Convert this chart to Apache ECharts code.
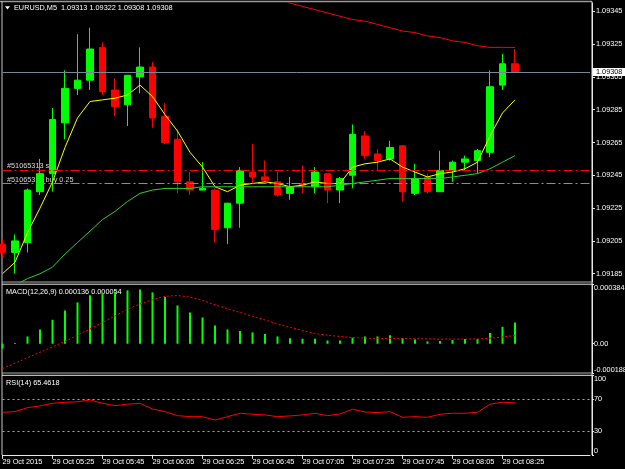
<!DOCTYPE html>
<html>
<head>
<meta charset="utf-8">
<script src="https://cdn.jsdelivr.net/npm/echarts@6/dist/echarts.min.js"></script>
<style>html,body{margin:0;padding:0;background:#000;}#c{width:625px;height:469px;}</style>
</head>
<body>
<div id="c"></div>
<script>
const categories = ['05:05','05:10','05:15','05:20','05:25','05:30','05:35','05:40','05:45','05:50','05:55','06:00',
  '06:05','06:10','06:15','06:20','06:25','06:30','06:35','06:40','06:45','06:50','06:55','07:00',
  '07:05','07:10','07:15','07:20','07:25','07:30','07:35','07:40','07:45','07:50','07:55','08:00',
  '08:05','08:10','08:15','08:20','08:25','08:30','08:35','08:40','08:45','08:50','08:55','09:00'];

const opens  = [1.09203,1.09198,1.09204,1.09235,1.09246,1.09277,1.09298,1.09303,1.09323,1.09297,1.09288,1.09305,1.09311,1.09281,1.09267,1.09241,1.09236,1.09236,1.09213,1.09228,1.09247,1.09244,1.09241,1.09234,1.09240,1.09238,1.09246,1.09236,1.09245,1.09269,1.09258,1.09255,1.09263,1.09234,1.09244,1.09235,1.09248,1.09253,1.09254,1.09259,1.09300,1.09313];
const highs  = [1.09206,1.09209,1.09237,1.09255,1.09286,1.09309,1.09331,1.09335,1.09326,1.09304,1.09306,1.09323,1.09314,1.09289,1.09273,1.09247,1.09253,1.09237,1.09228,1.09250,1.09264,1.09254,1.09247,1.09244,1.09251,1.09250,1.09246,1.09244,1.09276,1.09272,1.09261,1.09266,1.09263,1.09252,1.09246,1.09260,1.09254,1.09257,1.09261,1.09309,1.09319,1.09322];
const lows   = [1.09195,1.09185,1.09198,1.09233,1.09235,1.09267,1.09294,1.09297,1.09294,1.09281,1.09275,1.09295,1.09274,1.09264,1.09234,1.09233,1.09236,1.09204,1.09203,1.09213,1.09240,1.09241,1.09232,1.09230,1.09234,1.09234,1.09228,1.09228,1.09237,1.09255,1.09248,1.09254,1.09229,1.09233,1.09234,1.09235,1.09241,1.09248,1.09246,1.09256,1.09297,1.09308];
const closes = [1.09198,1.09205,1.09236,1.09246,1.09279,1.09298,1.09303,1.09322,1.09296,1.09287,1.09306,1.09311,1.09280,1.09265,1.09241,1.09236,1.09237,1.09212,1.09228,1.09248,1.09244,1.09242,1.09233,1.09238,1.09239,1.09247,1.09236,1.09243,1.09270,1.09257,1.09254,1.09262,1.09235,1.09243,1.09235,1.09248,1.09253,1.09255,1.09260,1.09299,1.09313,1.09308];

const maFast = [1.09185,1.09192,1.09210,1.09225,1.09241,1.09262,1.09280,1.09290,1.09291,1.09292,1.09294,1.09300,1.09293,1.09282,1.09272,1.09259,1.09250,1.09238,1.09235,1.09239,1.09240,1.09241,1.09240,1.09238,1.09239,1.09241,1.09240,1.09240,1.09250,1.09252,1.09253,1.09255,1.09250,1.09247,1.09244,1.09246,1.09247,1.09249,1.09253,1.09269,1.09283,1.09291];
const maMid  = [1.09175,1.09178,1.09182,1.09185,1.09189,1.09197,1.09204,1.09211,1.09218,1.09223,1.09229,1.09234,1.09236,1.09237,1.09237,1.09237,1.09238,1.09238,1.09238,1.09238,1.09238,1.09238,1.09238,1.09238,1.09238,1.09238,1.09238,1.09239,1.09240,1.09241,1.09242,1.09243,1.09243,1.09243,1.09243,1.09243,1.09244,1.09245,1.09246,1.09249,1.09253,1.09257];
const maSlow = [null,null,null,null,null,null,null,null,null,null,null,null,null,null,null,null,null,null,null,null,null,null,1.09353,1.09350,1.09348,1.09346,1.09344,1.09342,1.09340,1.09339,1.09337,1.09335,1.09333,1.09332,1.09330,1.09329,1.09327,1.09326,1.09324,1.09323,1.09323,1.09323];

const macdHist = [-0.00003,0.000005,0.000047,0.000092,0.000154,0.000214,0.000266,0.000311,0.000326,0.000332,0.000343,0.000349,0.00033,0.0003,0.000246,0.000201,0.000169,0.000118,0.000092,0.000082,0.000073,0.000062,0.000047,0.000036,0.000032,0.000032,0.000021,0.000021,0.000039,0.000047,0.000047,0.000054,0.000036,0.000028,0.000015,0.000017,0.000024,0.00003,0.00003,0.000069,0.000109,0.000136];
const macdSignal = [-0.00016,-0.000125,-0.00009,-0.000055,-0.00002,0.000015,0.000055,0.000096,0.000137,0.000179,0.000222,0.000256,0.000283,0.000305,0.00031,0.0003,0.000279,0.00025,0.000226,0.000201,0.000177,0.000153,0.000127,0.000106,0.000085,0.000066,0.000055,0.000047,0.00004,0.000037,0.000034,0.000034,0.000033,0.000032,0.000031,0.00003,0.00003,0.00003,0.000031,0.000035,0.000043,0.000054];

const rsi = [53.6,54.4,59.5,61.6,65,66.3,66.8,69.2,65,62,63.8,65,57.8,54.4,49.4,48.1,48.1,43.9,48.1,52.4,51.1,50.3,48.1,49,50.3,52.4,49.4,51.5,57.4,54,53.2,54.4,47.3,48.1,47.3,51.1,52.4,52.4,53.6,63.8,66.3,65.46];

const priceTicks = [1.09185,1.09205,1.09225,1.09245,1.09265,1.09285,1.09305,1.09325,1.09345];
const macdTicks = [-0.000188, 0, 0.000384];
const rsiTicks = [0, 30, 70, 100];
const rsiLevels = [70, 30];
const bidPrice = 1.09308;
const slPrice = 1.09248;
const openPrice = 1.0924;
const titleText = 'EURUSD,M5  1.09313 1.09322 1.09308 1.09308';
const macdTitle = 'MACD(12,26,9) 0.000136 0.000054';
const rsiTitle = 'RSI(14) 65.4618';
const slText = '#51065313 sl';
const buyText = '#51065313 buy 0.25';

const FF = '"Liberation Sans", Arial, sans-serif';
const FS = 7.3;
const candleData = opens.map((o, i) => [o, closes[i], lows[i], highs[i]]);
const labelShown = (i) => i % 4 === 0 && i <= 40;

const chart = echarts.init(document.getElementById('c'), null, {renderer: 'canvas'});
const gridCommon = {left: 2.5, right: 35, outerBoundsMode: 'none', containLabel: false};
const hiddenX = (g) => ({type: 'category', gridIndex: g, data: categories, boundaryGap: false, show: false});

chart.setOption({
  backgroundColor: '#000000',
  animation: false,
  grid: [
    Object.assign({top: 3.1, height: 278.8}, gridCommon),
    Object.assign({top: 284, height: 89}, gridCommon),
    Object.assign({top: 375.5, height: 79.3}, gridCommon)
  ],
  xAxis: [
    hiddenX(0), hiddenX(1),
    {type: 'category', gridIndex: 2, data: categories, boundaryGap: false,
     axisLine: {show: true, onZero: false, lineStyle: {color: '#e8e8e8', width: 1}},
     axisTick: {show: true, length: 4, interval: (i) => labelShown(i), lineStyle: {color: '#e8e8e8'}},
     axisLabel: {interval: (i) => labelShown(i), align: 'left', margin: 3.5, color: '#ffffff', fontSize: FS, fontFamily: FF,
       formatter: (v, i) => i === 0 ? '29 Oct 2015' : '29 Oct ' + v},
     splitLine: {show: false}}
  ],
  yAxis: [
    {type: 'value', gridIndex: 0, position: 'right', offset: 2, min: 1.0918, max: 1.0935,
     splitLine: {show: false},
     axisLine: {show: true, onZero: false, lineStyle: {color: '#e8e8e8'}},
     axisTick: {show: true, length: 3, customValues: priceTicks, lineStyle: {color: '#e8e8e8'}},
     axisLabel: {customValues: priceTicks, formatter: (v) => v.toFixed(5), color: '#ffffff', fontSize: FS, fontFamily: FF, margin: 4}},
    {type: 'value', gridIndex: 1, position: 'right', offset: 2, min: -0.000188, max: 0.000384,
     splitLine: {show: false},
     axisLine: {show: true, onZero: false, lineStyle: {color: '#e8e8e8'}},
     axisTick: {show: true, length: 2, customValues: macdTicks, lineStyle: {color: '#e8e8e8'}},
     axisLabel: {customValues: macdTicks, formatter: (v) => v === 0 ? '0.00' : v.toFixed(6), color: '#ffffff', fontSize: FS, fontFamily: FF, margin: 2,
       verticalAlignMaxLabel: 'top', verticalAlignMinLabel: 'bottom'}},
    {type: 'value', gridIndex: 2, position: 'right', offset: 2, min: 0, max: 100,
     splitLine: {show: false},
     axisLine: {show: true, onZero: false, lineStyle: {color: '#e8e8e8'}},
     axisTick: {show: true, length: 2, customValues: rsiTicks, lineStyle: {color: '#e8e8e8'}},
     axisLabel: {customValues: rsiTicks, color: '#ffffff', fontSize: FS, fontFamily: FF, margin: 2,
       verticalAlignMaxLabel: 'top', verticalAlignMinLabel: 'bottom'}}
  ],
  graphic: [
    {type: 'line', shape: {x1: 0, y1: 1.5, x2: 592, y2: 1.5}, style: {stroke: '#9a9a9a', lineWidth: 1.5}},
    {type: 'line', shape: {x1: 2, y1: 1.5, x2: 2, y2: 455}, style: {stroke: '#c8c8c8', lineWidth: 1}},
    {type: 'line', shape: {x1: 592, y1: 1.5, x2: 592, y2: 455}, style: {stroke: '#e8e8e8', lineWidth: 1}},
    {type: 'line', shape: {x1: 2, y1: 282, x2: 592, y2: 282}, style: {stroke: '#b0b0b0', lineWidth: 1}},
    {type: 'line', shape: {x1: 2, y1: 284.2, x2: 592, y2: 284.2}, style: {stroke: '#e8e8e8', lineWidth: 1}},
    {type: 'line', shape: {x1: 2, y1: 373, x2: 592, y2: 373}, style: {stroke: '#b0b0b0', lineWidth: 1}},
    {type: 'line', shape: {x1: 2, y1: 375.3, x2: 592, y2: 375.3}, style: {stroke: '#e8e8e8', lineWidth: 1}},
    {type: 'polygon', shape: {points: [[5, 6.3], [10, 6.3], [7.5, 9.5]]}, style: {fill: '#ffffff'}},
    {type: 'text', x: 14, y: 7.5, style: {text: titleText, fill: '#ffffff', font: FS + 'px ' + FF, verticalAlign: 'middle', textVerticalAlign: 'middle'}},
    {type: 'text', x: 6, y: 291.5, style: {text: macdTitle, fill: '#ffffff', font: FS + 'px ' + FF, verticalAlign: 'middle', textVerticalAlign: 'middle'}},
    {type: 'text', x: 6, y: 382.7, style: {text: rsiTitle, fill: '#ffffff', font: FS + 'px ' + FF, verticalAlign: 'middle', textVerticalAlign: 'middle'}},
    {type: 'text', x: 7, y: 166, style: {text: slText, fill: '#d8d8d8', font: FS + 'px ' + FF, verticalAlign: 'middle', textVerticalAlign: 'middle'}},
    {type: 'text', x: 7, y: 179.5, style: {text: buyText, fill: '#d8d8d8', font: FS + 'px ' + FF, verticalAlign: 'middle', textVerticalAlign: 'middle'}}
  ],
  series: [
    {type: 'line', name: 'levels', xAxisIndex: 0, yAxisIndex: 0, data: [], z: 1, silent: true,
     markLine: {symbol: ['none', 'none'], precision: 5, silent: true, animation: false,
       data: [
         {yAxis: bidPrice, lineStyle: {color: '#778899', type: 'solid', width: 1},
          label: {show: true, position: 'end', distance: 3, formatter: (p) => Number(p.value).toFixed(5),
                  backgroundColor: '#ffffff', color: '#000000', padding: [1, 4, 0, 3], fontSize: FS, fontFamily: FF}},
         {yAxis: slPrice, lineStyle: {color: '#ff0000', type: [9, 3, 2, 3], width: 1}, label: {show: false}},
         {yAxis: openPrice, lineStyle: {color: '#32cd32', type: [9, 3, 2, 3], width: 1}, label: {show: false}}
       ]}},
    {type: 'candlestick', name: 'EURUSD', xAxisIndex: 0, yAxisIndex: 0, data: candleData, barWidth: 7, z: 2, clip: true,
     itemStyle: {color: '#00ff00', color0: '#ff0000', borderColor: '#00ff00', borderColor0: '#ff0000', borderWidth: 1}},
    {type: 'line', name: 'MA fast', xAxisIndex: 0, yAxisIndex: 0, data: maFast, showSymbol: false, z: 3, clip: true,
     lineStyle: {color: '#ffff00', width: 1}},
    {type: 'line', name: 'MA mid', xAxisIndex: 0, yAxisIndex: 0, data: maMid, showSymbol: false, z: 3, clip: true,
     lineStyle: {color: '#32cd32', width: 1}},
    {type: 'line', name: 'MA slow', xAxisIndex: 0, yAxisIndex: 0, data: maSlow, showSymbol: false, z: 3, clip: true,
     lineStyle: {color: '#ff0000', width: 1}},
    {type: 'bar', name: 'MACD', xAxisIndex: 1, yAxisIndex: 1, data: macdHist, barWidth: 2, clip: true,
     itemStyle: {color: '#00ff00'}},
    {type: 'line', name: 'Signal', xAxisIndex: 1, yAxisIndex: 1, data: macdSignal, showSymbol: false, z: 3, clip: true,
     lineStyle: {color: '#ff0000', width: 1, type: [2, 2]}},
    {type: 'line', name: 'RSI', xAxisIndex: 2, yAxisIndex: 2, data: rsi, showSymbol: false, z: 3, clip: true,
     lineStyle: {color: '#ff0000', width: 1},
     markLine: {symbol: ['none', 'none'], silent: true, label: {show: false},
       lineStyle: {color: '#a8a8a8', type: [2, 3], width: 1},
       data: rsiLevels.map((v) => ({yAxis: v}))}}
  ]
});
</script>
</body>
</html>
